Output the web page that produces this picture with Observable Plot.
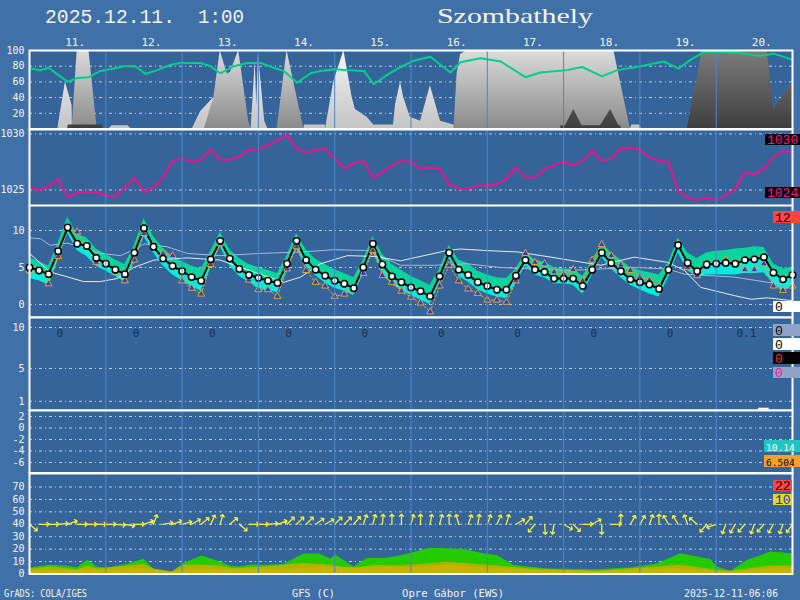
<!DOCTYPE html>
<html><head><meta charset="utf-8">
<script src="https://cdn.jsdelivr.net/npm/d3@7"></script>
<script src="https://cdn.jsdelivr.net/npm/@observablehq/plot@0.6"></script>
<style>
html,body{margin:0;padding:0;background:#4070a8;}
#wrap{position:relative;width:800px;height:600px;overflow:hidden;background:#4070a8;}
#wrap svg{position:absolute;left:0;}
</style></head><body><div id="wrap"></div>
<script>
// ---------------- DATA ----------------
const dayLabels = ["11.","12.","13.","14.","15.","16.","17.","18.","19.","20."];
const dayLines = [24,48,72,96,120,144,168,192,216];
const dayPrecip = ["0","0","0","0","0","0","0","0","0","0.1"];

// 3-hourly series (hour = index*3)
const temp = [5.0,4.6,4.1,7.2,10.4,8.2,7.9,6.3,5.5,4.7,
 4.1,7.0,10.3,7.8,6.2,5.2,4.5,3.7,3.2,6.1,
 8.6,6.2,4.8,4.0,3.6,3.2,2.9,5.5,8.6,6.0,
 4.7,3.9,3.2,2.8,2.2,5.0,8.2,5.4,3.8,3.0,
 2.3,1.8,1.1,3.8,7.0,4.7,4.0,3.0,2.5,2.0,
 2.0,3.9,6.0,4.7,4.4,3.5,3.5,3.5,2.5,4.7,
 7.0,5.6,4.5,3.4,3.0,2.7,2.1,4.7,8.0,5.6,
 4.5,5.4,5.5,5.6,5.5,6.0,6.1,6.4,4.3,3.4,
 4.0];
const tempAlt = [4.6,4.5,2.8,6.5,10.3,9.8,7.8,5.7,5.5,4.4,
 3.2,6.0,9.6,8.0,6.9,6.6,3.2,2.2,1.4,5.4,
 8.2,6.2,4.8,3.3,2.0,2.0,1.1,4.8,7.8,4.6,
 3.0,2.5,1.1,1.4,2.1,4.2,7.3,3.9,3.0,1.8,
 1.0,0.2,-1.0,2.5,5.3,3.2,2.1,1.5,0.6,0.6,
 0.3,3.2,6.9,5.7,5.5,4.4,4.1,4.7,3.2,6.0,
 8.1,6.6,5.3,4.6,3.7,3.3,2.5,4.6,8.2,5.0,
 3.9,5.0,5.5,6.0,5.4,4.7,4.7,5.5,2.5,1.9,
 2.5];
const bandHi = [6.3,5.8,5.2,8.3,11.8,9.5,9.0,7.5,6.8,6.0,
 5.4,8.0,11.6,9.2,7.6,6.5,5.8,5.2,4.8,7.2,
 9.8,7.4,6.2,5.4,5.0,4.6,4.2,6.6,9.6,7.4,
 6.1,5.4,4.7,4.2,3.6,6.0,9.2,6.8,5.4,4.6,
 3.8,3.2,2.6,4.8,8.0,6.0,5.5,4.5,4.0,3.6,
 3.5,4.8,7.0,6.0,5.7,5.0,4.8,4.8,3.8,5.8,
 8.2,7.0,6.0,5.0,4.6,4.3,4.0,5.6,9.0,7.0,
 6.2,7.0,7.2,7.3,7.5,7.6,7.8,7.7,5.5,4.8,
 5.0];
const bandLo = [3.5,3.2,2.6,6.0,9.6,7.3,6.5,5.2,4.5,3.8,
 3.0,5.8,9.2,7.0,5.2,4.0,3.2,2.4,1.8,5.0,
 7.8,5.2,3.8,3.0,2.2,1.9,1.6,4.6,7.6,5.2,
 3.9,2.9,2.2,1.8,1.2,4.1,7.3,4.2,2.7,1.9,
 1.2,0.6,0.0,2.8,6.2,3.8,3.0,2.0,1.4,1.0,
 0.8,2.8,5.2,4.0,3.6,2.8,2.8,2.6,1.4,4.0,
 6.4,4.8,3.6,2.6,2.0,1.4,1.0,3.6,7.0,4.6,
 3.7,4.0,4.0,4.0,4.0,4.2,4.2,4.3,2.8,1.8,
 2.5];
const pressure = [1025.2,1025.0,1025.3,1026.0,1024.3,1024.8,1024.8,1024.8,1024.5,1024.4,
 1025.2,1026.1,1024.8,1025.2,1026.1,1027.6,1027.8,1027.5,1027.7,1028.6,
 1027.7,1027.7,1028.0,1028.6,1028.6,1029.0,1029.4,1029.9,1028.7,1028.3,
 1028.6,1028.7,1027.8,1026.9,1027.4,1027.6,1026.1,1026.6,1027.2,1027.6,
 1027.5,1026.9,1027.0,1026.9,1025.5,1025.1,1025.1,1025.4,1025.4,1025.5,
 1026.0,1027.0,1026.1,1026.1,1026.9,1027.2,1027.5,1027.2,1027.6,1028.5,
 1027.6,1027.8,1028.7,1028.8,1028.6,1027.9,1027.6,1027.5,1024.9,1024.3,
 1024.1,1024.3,1024.1,1024.5,1025.1,1026.6,1026.4,1026.9,1027.9,1028.5,
 1028.3];
// wind arrow direction (degrees, clockwise from up, direction of arrow)
const windDir = [130,90,90,85,70,90,90,90,90,95,
 100,90,70,20,80,70,75,60,50,25,
 15,50,130,90,90,85,70,45,45,45,
 55,60,45,45,40,20,15,5,0,0,
 15,0,10,15,0,-15,20,10,20,25,
 15,60,40,220,175,190,120,135,90,60,
 180,90,0,30,30,20,0,-30,-30,-20,
 -50,220,250,200,210,220,200,220,210,200,
 215];

// keypoint series [hour, value]
const humidity = [[0,77],[3.5,75],[6,78],[12,60],[15,65],[18.7,66],[22.3,74],[26.5,77],[29.7,80],[33.3,80],[36.5,70],[40.2,75],[44.4,82],[47.5,84],[53.8,84],[56.9,80],[60,71],[64.3,80],[68.5,84],[72.7,84],[76.8,78],[80,74],[84.2,59],[88.4,71],[91.5,74],[95.7,76],[99.9,75],[105.2,74],[108.3,57],[112.5,69],[116.7,79],[120.9,87],[126.1,92],[132.4,72],[135.6,85],[141.9,90],[148.2,86],[156,66],[160.7,72],[169.1,75],[173.8,79],[180.1,67],[184.9,75],[192.2,80],[199.5,86],[204.2,77],[207.9,88],[212.1,98],[216.3,98],[222.6,97],[229.9,93],[234.1,96],[240,88]];
const cloudLight = [[0,0],[8.9,0],[11.3,60],[13.4,30],[13.5,0],[25,0],[26,4],[31,4],[32,0],[51.2,0],[53.8,22],[58,40],[60,40],[62,30],[66,25],[69,8],[69.5,0],[69.7,0],[71,85],[71.5,30],[72,95],[74,10],[75,0],[86.3,0],[86.5,5],[93,5],[93.1,0],[95.7,60],[98.9,100],[101.5,40],[102.5,25],[106.2,15],[108.3,5],[114.5,5],[115.1,30],[116.7,60],[117.7,40],[119.8,15],[123,10],[126.1,55],[129.3,10],[133.5,5],[134.5,0],[189,0],[189.5,5],[192,5],[192.5,0],[240,0]];
const cloudMid = [[0,0],[13.4,0],[15,100],[18.7,100],[21.3,0],[55,0],[58,40],[60,100],[62.2,70],[63.2,72],[65.8,100],[69,8],[69.5,0],[77.9,0],[81,100],[86.3,0],[133.5,0],[134.5,70],[135.6,95],[137.7,100],[183.8,100],[185.9,60],[189,0],[240,0]];
const cloudDark = [[0,0],[12,0],[12.2,5],[23,5],[23.2,0],[167,0],[167.2,4],[168.6,4],[171.2,25],[173.8,4],[179.6,4],[182.8,25],[185.4,4],[186,4],[186.2,0],[206.9,0],[211.6,100],[232,100],[234.1,25],[240,60]];
const climA = [[0,9.0],[3.4,8.9],[6.5,8.0],[11.8,8.3],[16,7.8],[22.3,6.9],[28.6,6.6],[32.8,7.4],[36,8.2],[43.3,7.8],[49.6,6.9],[60,6.6],[72.7,6.9],[85.3,7.1],[95.8,7.4],[106.3,7.3],[116.7,5.3],[127.2,5.3],[137.7,5.5],[148.2,5.0],[158.7,4.8],[169.2,4.6],[179.7,4.8],[190.2,5.0],[200.7,4.8],[206,4.1],[221.7,3.7],[232.2,3.0],[240,2.8]];
const climB = [[0,6.9],[6.5,4.4],[17,3.1],[22.3,3.1],[27.5,3.5],[32.8,5.0],[39.1,6.0],[49.6,6.3],[60,6.0],[70.5,4.4],[80,3.0],[85.3,3.7],[91.5,5.5],[100,6.6],[108.4,6.5],[116.7,5.9],[131.4,7.3],[135.6,7.5],[143,7.3],[153.5,7.1],[164,6.4],[179.7,5.3],[190.2,6.4],[200.7,5.7],[206,4.6],[211.2,2.3],[221.7,1.2],[227,0.7],[232.2,0.9],[240,0.5]];
const precipBars = [[231,0.1]];
const gust = [[0,4.9],[6.5,7.0],[11.8,6.2],[15,5.1],[18.4,11.1],[21.3,5.7],[24.4,4.9],[30.7,7.6],[36,11.9],[39.1,3.8],[42.3,2.2],[44.9,1.6],[48.5,8.4],[54.3,14.5],[60,9.7],[63,6.4],[66,5.6],[70,7.2],[73.7,7.0],[80,7.6],[86.3,16],[91.5,16],[94.7,11.9],[96.3,15.1],[102,5.7],[106.2,12.4],[111.4,12.4],[116.7,14.5],[126.1,20.8],[136.6,19.7],[142.9,16.2],[147.1,14.9],[152.4,6.8],[162.9,4.0],[178.6,3.5],[189.1,4.9],[197.5,8.1],[204.8,16.2],[214.3,11.6],[216.4,5.4],[220.6,2.2],[225.8,10.8],[233.2,17.6],[240,16.2]];
const speed = [[0,3.8],[6.5,5.7],[15,3.4],[18.4,6.2],[21.3,4.0],[36,7.6],[39.1,4.0],[44.9,1.6],[48.5,7.0],[54,7.2],[60,6.5],[64.3,4.3],[73.7,5.7],[86.3,8.4],[94.7,7.0],[102,4.0],[108.3,7.0],[116.7,6.5],[131.4,9.5],[147.1,6.5],[157.6,4.0],[178.6,2.2],[204.8,7.0],[216.4,3.0],[220.6,2.2],[233.2,6.5],[240,6.5]];
const speedLow = [[0,2.5],[18,3.5],[36,4.5],[45,1.2],[50,4],[80,3.5],[90,5],[120,5],[131,7],[145,4.5],[160,3],[180,1.8],[205,4.5],[218,1.5],[222,1.5],[232,4],[240,4]];

// text labels
const titleDate = "2025.12.11.", titleTime = "1:00", cityName = "Szombathely";
const footer = ["GrADS: COLA/IGES","GFS (C)","Opre Gábor (EWS)","2025-12-11-06:06"];
const boxPressure = ["1030","1024"];
const boxTemp = ["12","0"];
const boxPrecip = ["0","0","0","0"];
const boxPanel5 = ["10.14","6.504"];
const boxWind = ["22","10"];

// ---------------- LAYOUT ----------------
const W = 800, ML = 29, MR = 8, BG = "#35649a";
const wrap = document.getElementById("wrap");
const idx = d3.range(temp.length);
const H = i => i*3;
const xs = h => ML + (W-ML-MR)*h/240;
const MONO = "DejaVu Sans Mono";

function panel(top, bottom, domain, ticks, marks, defs){
  const h = bottom - top + 2;
  const m = [Plot.frame({fill:BG})];
  if (defs) m.push(defs(h));
  m.push(Plot.ruleY(ticks,{stroke:"#c8c8c8", strokeDasharray:"3,3,1,3", strokeWidth:1}));
  m.push(...marks);
  m.push(Plot.ruleX(dayLines,{stroke:"#4d86c8", strokeWidth:1}));
  m.push(Plot.axisY({ticks, tickSize:0, tickPadding:5, fontSize:10, fontFamily:MONO, tickFormat:d=>String(d)}));
  m.push(Plot.frame({stroke:"white", strokeWidth:2}));
  const svg = Plot.plot({
    width:W, height:h, marginTop:1, marginBottom:1, marginLeft:ML, marginRight:MR,
    x:{domain:[0,240], axis:null},
    y:{domain, axis:null},
    style:{overflow:"visible", background:"transparent", color:"#f4f4f4"},
    marks:m
  });
  svg.style.top = (top-1)+"px";
  wrap.appendChild(svg);
  return svg;
}

function cloudDefs(h){
  return () => {
    const defs = d3.create("svg:defs");
    const mk = (id, c0, c1) => {
      const g = defs.append("linearGradient").attr("id",id).attr("gradientUnits","userSpaceOnUse")
        .attr("x1",0).attr("x2",0).attr("y1",1).attr("y2",h-1);
      g.append("stop").attr("offset","0").attr("stop-color",c0);
      g.append("stop").attr("offset","1").attr("stop-color",c1);
    };
    mk("cgL","#f6f6f6","#c4c4c4");
    mk("cgM","#dcdcdc","#8a8a8a");
    mk("cgD","#7c7c7c","#3e3e3e");
    return defs.node();
  };
}

const kx = d=>d[0], ky = d=>d[1];

// Panel 1: clouds + humidity
panel(50, 128.5, [0,100], [20,40,60,80,100], [
  Plot.areaY(cloudLight,{x:kx, y:ky, fill:"url(#cgL)"}),
  Plot.areaY(cloudMid,{x:kx, y:ky, fill:"url(#cgM)"}),
  Plot.areaY(cloudDark,{x:kx, y:ky, fill:"url(#cgD)"}),
  Plot.line(humidity,{x:kx, y:ky, stroke:"#00d08a", strokeWidth:2})
], cloudDefs);

// Panel 2: pressure
panel(128.5, 205, [1023.57,1030.40], [1025,1030], [
  Plot.line(idx,{x:H, y:i=>pressure[i], stroke:"#f0108c", strokeWidth:2})
]);

// Panel 3: temperature
panel(205, 317, [-1.76,13.38], [0,5,10], [
  Plot.areaY(idx,{x:H, y1:i=>bandLo[i], y2:i=>temp[i], fill:"#00ecdc"}),
  Plot.areaY(idx,{x:H, y1:i=>temp[i], y2:i=>bandHi[i], fill:"#08d49c"}),
  Plot.line(climA,{x:kx, y:ky, stroke:"#a6b8d4", strokeWidth:1}),
  Plot.line(climB,{x:kx, y:ky, stroke:"#e4ecf4", strokeWidth:1}),
  Plot.line(idx,{x:H, y:i=>tempAlt[i], stroke:"#f0a020", strokeWidth:1, strokeDasharray:"2,2"}),
  Plot.line(idx,{x:H, y:i=>temp[i], stroke:"black", strokeWidth:2}),
  Plot.dot(idx,{x:H, y:i=>tempAlt[i], symbol:"triangle", r:2.6, fill:"#2040e0", stroke:"#f0a020", strokeWidth:1}),
  Plot.dot(idx,{x:H, y:i=>temp[i], r:3.2, fill:"white", stroke:"black", strokeWidth:1.5})
]);

// Panel 4: precipitation
panel(317, 410, [-0.12,11.22], [1,5,10], [
  Plot.rect(precipBars,{x1:d=>d[0]-1.5, x2:d=>d[0]+1.5, y1:0, y2:ky, fill:"white", stroke:"white", strokeWidth:1}),
  Plot.text(dayPrecip,{x:(d,i)=>i*24+9.5, y:9.3, text:d=>d, fill:"#1e2e4c", fontSize:11, fontFamily:MONO})
]);

// Panel 5: empty index panel
panel(410, 472.5, [-7.83,3.04], [2,0,-2,-4,-6], []);

// Panel 6: wind
panel(472.5, 573, [0,80.85], [0,10,20,30,40,50,60,70], [
  Plot.areaY(gust,{x:kx, y:ky, fill:"#22cc00"}),
  Plot.areaY(speed,{x:kx, y:ky, fill:"#b2b000"}),
  Plot.areaY(speedLow,{x:kx, y:ky, fill:"#c8b400"}),
  Plot.vector(idx,{x:H, y:40, rotate:i=>windDir[i], length:10, anchor:"start", stroke:"#f6ee40", strokeWidth:1.3})
]);

// ---------------- OVERLAY TEXT ----------------
const ov = d3.select(wrap).append("svg").attr("width",800).attr("height",600)
  .style("top","0px").style("pointer-events","none");
const txt = (x,y,s,opt={}) => {
  const t = ov.append("text").attr("x",x).attr("y",y).text(s)
    .attr("font-family",opt.font||MONO).attr("font-size",opt.size||11)
    .attr("fill",opt.fill||"#f4f4f4").attr("text-anchor",opt.anchor||"start");
  if (opt.len) t.attr("textLength",opt.len).attr("lengthAdjust","spacingAndGlyphs");
  return t;
};
txt(45,23,titleDate,{font:"Liberation Mono",size:20,len:130});
txt(198,23,titleTime,{font:"Liberation Mono",size:20,len:46});
txt(437,23,cityName,{font:"Liberation Serif",size:22,len:156});
dayLabels.forEach((d,i)=>txt(xs(i*24+14.5),45.5,d,{size:11,anchor:"middle"}));
txt(4,597,footer[0],{size:10,len:83});
txt(292,597,footer[1],{size:10,len:43});
txt(402,597,footer[2],{size:10,len:102});
txt(684,597,footer[3],{size:10,len:94});

const box = (x,y,w,h,bg,fg,s,size) => {
  ov.append("rect").attr("x",x).attr("y",y).attr("width",w).attr("height",h).attr("fill",bg);
  txt(x+2,y+h-1.5,s,{font: size ? MONO : "Liberation Mono",size:size||13,fill:fg});
};
box(765,134,35,11,"#000","#ff1493",boxPressure[0]);
box(765,187,35,11,"#000","#ff1493",boxPressure[1]);
box(773,211,27,12,"#ff4444","#000",boxTemp[0]);
box(773,301,27,11,"#fff","#000",boxTemp[1]);
box(773,324,27,12,"#8fa3c8","#000",boxPrecip[0]);
box(773,338,27,12,"#fff","#000",boxPrecip[1]);
box(773,352,27,12,"#000","#ff3030",boxPrecip[2]);
box(773,367,27,11,"#8fa3c8","#ff10a0",boxPrecip[3]);
box(764,440,36,12,"#20c4c4","#fff",boxPanel5[0],9.5);
box(764,455,36,12,"#f0a030","#000",boxPanel5[1],9.5);
box(773,480,19,11,"#ff4444","#000",boxWind[0]);
box(773,494,19,11,"#e8d820","#2030d0",boxWind[1]);
</script></body></html>
